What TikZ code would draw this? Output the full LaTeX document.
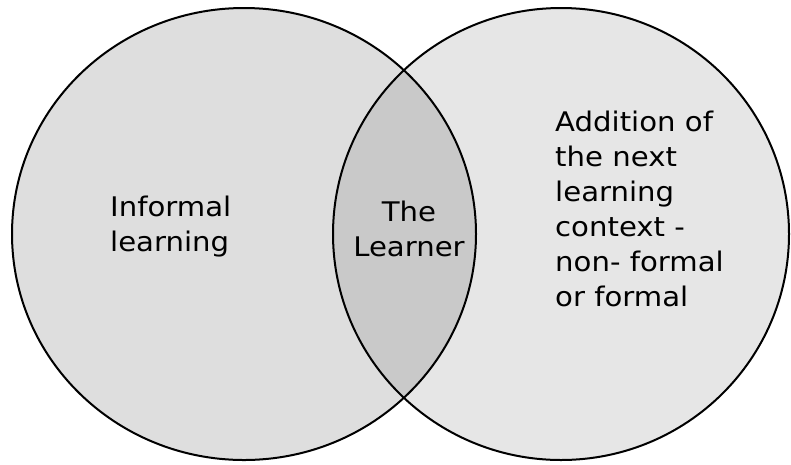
\documentclass[tikz,border=0pt]{standalone}
\usepackage{fontspec}
\setmainfont[FakeStretch=1.08]{DejaVu Sans}
\definecolor{leftfill}{HTML}{DEDEDE}
\definecolor{rightfill}{HTML}{E6E6E6}
\definecolor{midfill}{HTML}{C9C9C9}
\begin{document}
\begin{tikzpicture}[x=1pt,y=-1pt,
  outline/.style={draw=black,line width=2pt},
  label/.style={inner sep=0pt,align=left,font=\fontsize{27}{35}\selectfont},
  midlabel/.style={inner sep=0pt,align=center,font=\fontsize{27}{35}\selectfont}]
\useasboundingbox (0,0) rectangle (791,464);
\def\leftell{(244,234) ellipse [x radius=232, y radius=226]}
\def\rightell{(561,234) ellipse [x radius=228, y radius=226]}
\fill[leftfill] \leftell;
\fill[rightfill] \rightell;
\begin{scope}
  \clip \leftell;
  \fill[midfill] \rightell;
\end{scope}
\draw[outline] \leftell;
\draw[outline] \rightell;
\node[label,anchor=north west] (informal) at (110,196) {Informal\\learning};
\node[midlabel,anchor=north] (learner) at (409,201) {The\\Learner};
\node[label,anchor=north west] (addition) at (555,111) {Addition of\\the next\\learning\\context -\\non- formal\\or formal};
\end{tikzpicture}
\end{document}
